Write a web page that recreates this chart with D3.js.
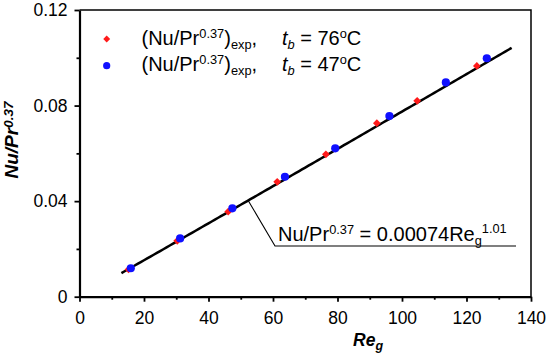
<!DOCTYPE html>
<html><head><meta charset="utf-8">
<script src="https://cdn.jsdelivr.net/npm/d3@7"></script>
<style>body{margin:0;background:#fff}svg{display:block}text{font-family:"Liberation Sans",Arial,sans-serif}</style>
</head><body><svg id="c" width="550" height="359"></svg>
<script>
const re76 = [15.2, 30.3, 46.1, 61.3, 76.4, 92.2, 104.7, 123.2];
const nu76 = [0.0114, 0.0234, 0.0356, 0.0481, 0.0596, 0.0726, 0.0820, 0.0966];
const re47 = [15.9, 31.2, 47.4, 63.7, 79.3, 96.1, 113.6, 126.3];
const nu47 = [0.0119, 0.0244, 0.0370, 0.0502, 0.0621, 0.0756, 0.0897, 0.0998];
const fitRange = [13, 134];
const fitCoef = 0.00074, fitExp = 1.01;
const xTicks = [0, 20, 40, 60, 80, 100, 120, 140];
const yTicks = [0, 0.04, 0.08, 0.12];
const xMinor = [10, 30, 50, 70, 90, 110, 130];
const yMinor = [0.02, 0.06, 0.10];

const svg = d3.select("#c");
const L = 79.5, R = 531, T = 10, B = 296.7;
const x = d3.scaleLinear().domain([0, 140]).range([L, R]);
const y = d3.scaleLinear().domain([0, 0.12]).range([B, T]);
const FONT = '"Liberation Sans",Arial,sans-serif';
const MAIN = 20, SUP = 12.8;

svg.append("path").attr("d", `M${L},${T}H${R}V${B}`).attr("fill", "none").attr("stroke", "#000").attr("stroke-width", 1.5);

const xa = svg.append("g").attr("transform", `translate(0,${B})`)
  .call(d3.axisBottom(x).tickValues(xTicks).tickFormat(d3.format("d")).tickSize(5).tickSizeOuter(0));
const ya = svg.append("g").attr("transform", `translate(${L},0)`)
  .call(d3.axisLeft(y).tickValues(yTicks).tickFormat(d => d === 0 ? "0" : d3.format(".2f")(d)).tickSize(5).tickSizeOuter(0));
[xa, ya].forEach(g => {
  g.select(".domain").attr("stroke-width", 2.2);
  g.selectAll(".tick line").attr("stroke-width", 1.8);
  g.selectAll(".tick text").attr("font-size", 17.5).attr("fill", "#000").style("font-family", FONT);
});
xa.selectAll(".tick text").attr("dy", 0).attr("y", 27);
ya.selectAll(".tick text").attr("x", -12);
svg.append("g").attr("transform", `translate(0,${B})`)
  .call(d3.axisBottom(x).tickValues(xMinor).tickFormat("").tickSize(3).tickSizeOuter(0))
  .call(g => { g.select(".domain").remove(); g.selectAll(".tick line").attr("stroke-width", 1.8); });
svg.append("g").attr("transform", `translate(${L},0)`)
  .call(d3.axisLeft(y).tickValues(yMinor).tickFormat("").tickSize(3).tickSizeOuter(0))
  .call(g => { g.select(".domain").remove(); g.selectAll(".tick line").attr("stroke-width", 1.8); });

const fitPts = d3.range(fitRange[0], fitRange[1] + 0.01, 1).map(r => [r, fitCoef * Math.pow(r, fitExp)]);
svg.append("path").datum(fitPts)
  .attr("d", d3.line().x(d => x(d[0])).y(d => y(d[1])))
  .attr("fill", "none").attr("stroke", "#000").attr("stroke-width", 2.5);

const diamond = d3.symbol().type(d3.symbolSquare).size(30);
svg.append("g").selectAll("path").data(re76.map((r, i) => [r, nu76[i]])).join("path")
  .attr("d", diamond).attr("transform", d => `translate(${x(d[0])},${y(d[1])}) rotate(45)`).attr("fill", "#ff1a1a");
svg.append("g").selectAll("circle").data(re47.map((r, i) => [r, nu47[i]])).join("circle")
  .attr("cx", d => x(d[0])).attr("cy", d => y(d[1])).attr("r", 4.1).attr("fill", "#1010ff");

const legRows = [{c: "red", t: "76", yy: 39}, {c: "blue", t: "47", yy: 65.7}];
legRows.forEach(rw => {
  if (rw.c === "red") svg.append("path").attr("d", d3.symbol().type(d3.symbolSquare).size(24)).attr("transform", `translate(106.7,${rw.yy}) rotate(45)`).attr("fill", "#ff1a1a");
  else svg.append("circle").attr("cx", 106.7).attr("cy", rw.yy).attr("r", 3.6).attr("fill", "#1010ff");
  const by = rw.yy + 5.7;
  const t = svg.append("text").attr("x", 141.5).attr("y", by).attr("font-size", MAIN);
  t.append("tspan").text("(Nu/Pr");
  t.append("tspan").attr("font-size", SUP).attr("dy", -7).text("0.37");
  t.append("tspan").attr("dy", 7).text(")");
  t.append("tspan").attr("font-size", SUP).attr("dy", 4).text("exp");
  t.append("tspan").attr("dy", -4).text(",");
  const t2 = svg.append("text").attr("x", 282).attr("y", by).attr("font-size", MAIN);
  t2.append("tspan").attr("font-style", "italic").text("t");
  t2.append("tspan").attr("font-style", "italic").attr("font-size", SUP).attr("dy", 4).text("b");
  t2.append("tspan").attr("dy", -4).text(" = " + rw.t);
  t2.append("tspan").attr("font-size", SUP).attr("dy", -7).text("o");
  t2.append("tspan").attr("dy", 7).text("C");
});

const ax0 = 52.3;
svg.append("path").attr("d", `M${x(ax0)},${y(fitCoef * Math.pow(ax0, fitExp))}L275,246H516`)
  .attr("fill", "none").attr("stroke", "#000").attr("stroke-width", 1.1);
const at = svg.append("text").attr("x", 278).attr("y", 241).attr("font-size", MAIN);
at.append("tspan").text("Nu/Pr");
at.append("tspan").attr("font-size", SUP).attr("dy", -7).text("0.37");
at.append("tspan").attr("dy", 7).text(" = 0.00074Re");
at.append("tspan").attr("font-size", SUP).attr("dy", 4).text("g");
at.append("tspan").attr("font-size", SUP).attr("dy", -12).text("1.01");

const xt = svg.append("text").attr("x", 353).attr("y", 345.5).attr("font-size", 17.5).attr("font-weight", "bold").attr("font-style", "italic");
xt.append("tspan").text("Re");
xt.append("tspan").attr("font-size", 12.5).attr("dy", 4).text("g");
const yt = svg.append("text").attr("transform", "translate(18,140) rotate(-90)").attr("text-anchor", "middle")
  .attr("font-size", 19).attr("font-weight", "bold").attr("font-style", "italic");
yt.append("tspan").text("Nu/Pr");
yt.append("tspan").attr("font-size", 13.5).attr("dy", -5).text("0.37");
</script></body></html>
